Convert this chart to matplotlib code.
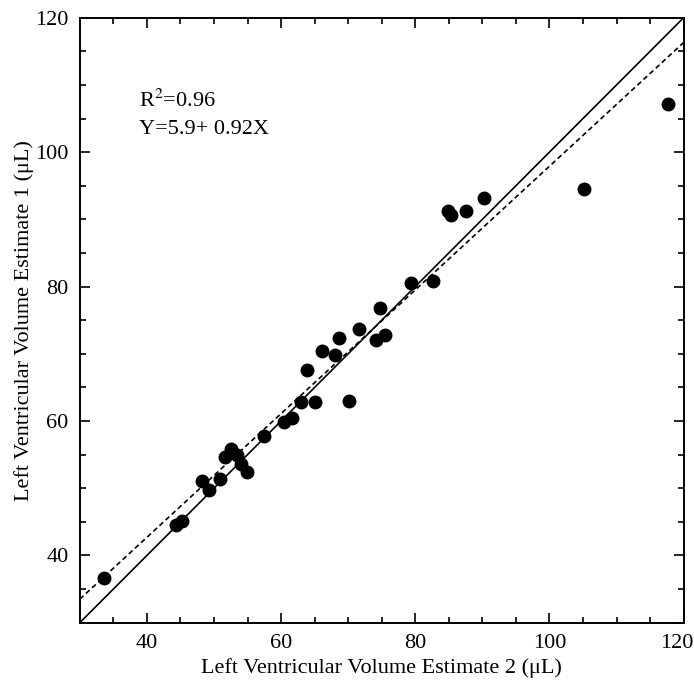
import numpy as np
import matplotlib.pyplot as plt
from matplotlib.ticker import MultipleLocator, FuncFormatter

plt.rcParams['font.family'] = ['Liberation Serif', 'DejaVu Serif']
plt.rcParams['mathtext.fontset'] = 'stix'

# estimate 2 (x) vs estimate 1 (y)
est2 = [33.6, 44.3, 45.2, 48.2, 49.3, 50.9, 51.7, 52.6, 53.4, 54.1, 54.9, 57.4,
        60.4, 61.6, 62.9, 63.8, 65.0, 66.1, 68.0, 68.7, 70.2, 71.6, 74.1, 74.8,
        75.5, 79.4, 82.6, 84.9, 85.4, 87.6, 90.2, 105.1, 117.7]
est1 = [36.6, 44.5, 45.1, 51.1, 49.7, 51.3, 54.7, 55.9, 54.9, 53.6, 52.4, 57.8,
        59.85, 60.4, 62.8, 67.6, 62.9, 70.4, 69.8, 72.3, 63.0, 73.7, 72.1, 76.8,
        72.8, 80.6, 80.9, 91.2, 90.6, 91.3, 93.2, 94.5, 107.2]

intercept = 5.9
slope = 0.92
r2 = 0.96
lims = [30, 120]

fig = plt.figure(figsize=(6.94, 6.82), dpi=100)
ax = fig.add_axes([0.115, 0.087, 0.870, 0.887])

xs = np.array(lims)
ax.plot(xs, xs, color='black', lw=1.2)
ax.plot(xs, intercept + slope * xs, color='black', lw=1.2, linestyle=(0, (3, 2)))
ax.plot(est2, est1, 'o', color='black', markersize=9)

ax.set_xlim(lims)
ax.set_ylim(lims)
ax.xaxis.set_major_locator(MultipleLocator(20))
ax.yaxis.set_major_locator(MultipleLocator(20))
ax.xaxis.set_minor_locator(MultipleLocator(5))
ax.yaxis.set_minor_locator(MultipleLocator(5))
# the last x label is drawn separately so it stays inside the figure
ax.xaxis.set_major_formatter(FuncFormatter(lambda v, p: '' if v >= lims[1] else f'{v:g}'))
ax.tick_params(which='both', direction='in', top=True, right=True, labelsize=16, width=1.2)
ax.tick_params(which='major', length=7, pad=8)
ax.tick_params(which='minor', length=4)
for sp in ax.spines.values():
    sp.set_linewidth(1.4)

ax.annotate(f'{lims[1]}', xy=(lims[1], 0), xycoords=('data', 'axes fraction'),
            xytext=(-5, -8), textcoords='offset points', ha='center', va='top', fontsize=16)

ax.set_xlabel('Left Ventricular Volume Estimate 2 (\u03bcL)', fontsize=16, labelpad=4)
ax.set_ylabel('Left Ventricular Volume Estimate 1 (\u03bcL)', fontsize=16, labelpad=1)

ax.text(38.8, 107.7, f'R$^2$={r2}', fontsize=16, ha='left', va='center')
ax.text(38.8, 103.3, f'Y={intercept}+ {slope}X', fontsize=16, ha='left', va='center')

fig.savefig('out.png', dpi=100)
